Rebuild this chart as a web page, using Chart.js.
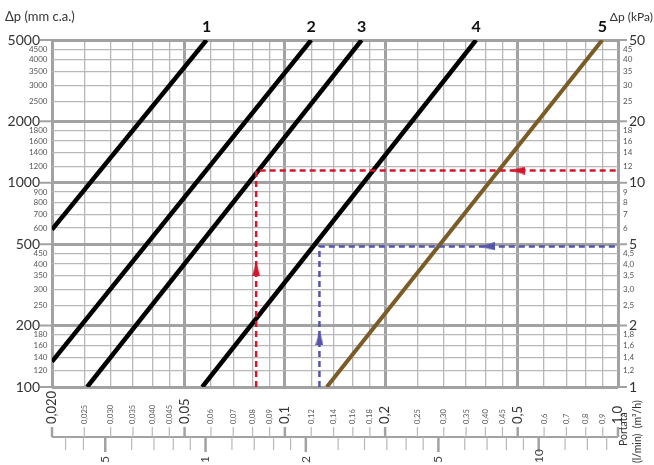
<!DOCTYPE html>
<html>
<head>
<meta charset="utf-8">
<script src="https://cdn.jsdelivr.net/npm/chart.js@4"></script>
<style>
  html, body { margin: 0; padding: 0; background: #fff; }
  #wrap { width: 654px; height: 465px; position: relative; }
</style>
</head>
<body>
<div id="wrap"><canvas id="myChart"></canvas></div>
<script>
// flow (m3/h) grid + labels
const flowTicks = [0.02,0.025,0.03,0.035,0.04,0.045,0.05,0.06,0.07,0.08,0.09,0.1,0.12,0.14,0.16,0.18,0.2,0.25,0.3,0.35,0.4,0.45,0.5,0.6,0.7,0.8,0.9,1.0];
const flowLabels = ['0,020','0,025','0,030','0,035','0,040','0,045','0,05','0,06','0,07','0,08','0,09','0,1','0,12','0,14','0,16','0,18','0,2','0,25','0,30','0,35','0,40','0,45','0,5','0,6','0,7','0,8','0,9','1,0'];
const flowMajor = [0.02,0.05,0.1,0.2,0.5,1.0];

// pressure drop (mm c.a.) grid + labels, and kPa labels on the right
const dpTicks = [100,120,140,160,180,200,250,300,350,400,450,500,600,700,800,900,1000,1200,1400,1600,1800,2000,2500,3000,3500,4000,4500,5000];
const dpMajor = [100,200,500,1000,2000,5000];
const kpaLabels = ['1','1,2','1,4','1,6','1,8','2','2,5','3,0','3,5','4,0','4,5','5','6','7','8','9','10','12','14','16','18','20','25','30','35','40','45','50'];

// l/min scale below (as drawn, 1 l/min sits at ~0.0578 m3/h)
const LMIN_TO_M3H = 0.0578;
const lminTicks = [0.38,0.43,0.5,0.6,0.7,0.8,0.9,1,1.2,1.4,1.6,1.8,2,2.5,3,3.5,4,4.5,5,6,7,8,9,10,12,14,16];
const lminMajor = [0.5,1,2,5,10];
const lminLabels = ['5','1','2','5','10'];

// valve curves: [Q m3/h, dp mm c.a.]
const curve1 = [{x:0.02, y:590}, {x:0.0582, y:5000}];
const curve2 = [{x:0.02, y:133}, {x:0.12, y:5000}];
const curve3 = [{x:0.0255, y:100}, {x:0.170, y:5000}];
const curve4 = [{x:0.0565, y:100}, {x:0.375, y:5000}];
const curve5 = [{x:0.1336, y:100}, {x:0.897, y:5000}];
const curveNames = ['1','2','3','4','5'];

// worked examples
const redPath = [{x:0.082, y:100}, {x:0.082, y:1148}, {x:1.0, y:1148}];
const bluePath = [{x:0.127, y:100}, {x:0.127, y:488}, {x:1.0, y:488}];
const redArrows = [{x:0.082, y:379}, {x:0.50, y:1148}];
const blueArrows = [{x:0.127, y:174}, {x:0.405, y:488}];

const FONT = 'Lato, "DejaVu Sans", sans-serif';
const GRID = '#b8b8b8';
const GRID_MAJOR = '#a2a2a2';
const RED = '#d3162c';
const BLUE = '#5555aa';
const BROWN = '#7b5b26';

function tri(color) {
  const c = document.createElement('canvas');
  c.width = 8; c.height = 15;
  const g = c.getContext('2d');
  g.fillStyle = color;
  g.beginPath();
  g.moveTo(4, 0); g.lineTo(8, 15); g.lineTo(0, 15);
  g.closePath(); g.fill();
  return c;
}

function seg(ctx, x1, y1, x2, y2, w, col) {
  ctx.strokeStyle = col; ctx.lineWidth = w;
  ctx.beginPath(); ctx.moveTo(x1, y1); ctx.lineTo(x2, y2); ctx.stroke();
}

function txt(ctx, s, x, y, align, font, col, rot) {
  ctx.save();
  ctx.translate(x, y);
  if (rot) ctx.rotate(rot);
  ctx.font = font; ctx.fillStyle = col || '#333';
  ctx.textAlign = align; ctx.textBaseline = 'middle';
  ctx.fillText(s, 0, 0);
  ctx.restore();
}

const decor = {
  id: 'decor',
  afterDraw(chart) {
    const { ctx, scales: { x, y }, chartArea: a } = chart;
    ctx.save();

    // left + right axis labels
    dpTicks.forEach((v, i) => {
      const py = y.getPixelForValue(v);
      if (dpMajor.includes(v)) {
        seg(ctx, a.left - 12, py, a.left, py, 2, GRID_MAJOR);
        seg(ctx, a.right, py, a.right + 9, py, 2, GRID_MAJOR);
        txt(ctx, String(v), a.left - 12, py, 'right', '14px ' + FONT, '#333');
        txt(ctx, kpaLabels[i], a.right + 11, py, 'left', '14px ' + FONT, '#333');
      } else {
        txt(ctx, String(v), a.left - 4.5, py, 'right', '8px ' + FONT, '#555');
        txt(ctx, kpaLabels[i], a.right + 5, py, 'left', '8px ' + FONT, '#555');
      }
    });

    // flow axis (m3/h)
    const yLine = 437;
    seg(ctx, a.left, yLine, a.right, yLine, 2, GRID_MAJOR);
    flowTicks.forEach((v, i) => {
      const px = x.getPixelForValue(v);
      const big = flowMajor.includes(v);
      seg(ctx, px, 427, px, yLine, big ? 2.5 : 1.2, big ? GRID_MAJOR : GRID);
      txt(ctx, flowLabels[i], px, 424, 'left', (big ? '13px ' : '7.5px ') + FONT, big ? '#333' : '#555', -Math.PI / 2);
    });

    // l/min axis
    lminTicks.forEach(v => {
      const px = x.getPixelForValue(v * LMIN_TO_M3H);
      const k = lminMajor.indexOf(v);
      seg(ctx, px, yLine, px, k >= 0 ? 452 : 450, k >= 0 ? 2.5 : 1.2, k >= 0 ? GRID_MAJOR : GRID);
      if (k >= 0) txt(ctx, lminLabels[k], px, 463, 'left', '12px ' + FONT, '#444', -Math.PI / 2);
    });

    // axis titles
    txt(ctx, 'Δp (mm c.a.)', 5, 17, 'left', '13px ' + FONT, '#333');
    txt(ctx, 'Δp (kPa)', 653, 17, 'right', '12px ' + FONT, '#333');
    txt(ctx, 'Portata', 624, 446, 'left', '10.5px ' + FONT, '#333', -Math.PI / 2);
    txt(ctx, '(l/min)  (m³/h)', 638, 463, 'left', '10.5px ' + FONT, '#333', -Math.PI / 2);

    // curve numbers at the top end of each line
    [curve1, curve2, curve3, curve4, curve5].forEach((c, i) => {
      const end = c[c.length - 1];
      txt(ctx, curveNames[i], x.getPixelForValue(end.x), y.getPixelForValue(end.y) - 13,
        'center', 'bold 16px ' + FONT, '#111');
    });
    ctx.restore();
  }
};

const lineDs = (data, color, w) => ({
  data, borderColor: color, borderWidth: w, showLine: true,
  pointRadius: 0, fill: false, tension: 0
});

new Chart(document.getElementById('myChart'), {
  type: 'scatter',
  data: {
    datasets: [
      Object.assign(lineDs(redPath, RED, 2.5), { borderDash: [6, 4], order: 2 }),
      Object.assign(lineDs(bluePath, BLUE, 2.5), { borderDash: [6, 4], order: 2 }),
      { data: redArrows, pointStyle: tri(RED), pointRotation: [0, -90], pointRadius: 7, order: 1 },
      { data: blueArrows, pointStyle: tri(BLUE), pointRotation: [0, -90], pointRadius: 7, order: 1 },
      Object.assign(lineDs(curve1, '#000', 4.5), { order: 3 }),
      Object.assign(lineDs(curve2, '#000', 4.5), { order: 3 }),
      Object.assign(lineDs(curve3, '#000', 4.5), { order: 3 }),
      Object.assign(lineDs(curve4, '#000', 4.5), { order: 3 }),
      Object.assign(lineDs(curve5, BROWN, 4), { order: 3 })
    ]
  },
  options: {
    animation: false,
    responsive: true,
    maintainAspectRatio: false,
    layout: { padding: { left: 52, top: 40, right: 36, bottom: 78 } },
    plugins: { legend: { display: false }, tooltip: { enabled: false } },
    scales: {
      x: {
        type: 'logarithmic', min: 0.02, max: 1.0,
        afterBuildTicks: s => { s.ticks = flowTicks.map(v => ({ value: v })); },
        ticks: { display: false },
        border: { display: false },
        grid: {
          drawTicks: false,
          color: c => flowMajor.includes(c.tick.value) ? GRID_MAJOR : GRID,
          lineWidth: c => flowMajor.includes(c.tick.value) ? 3 : 1.3
        }
      },
      y: {
        type: 'logarithmic', min: 100, max: 5000,
        afterBuildTicks: s => { s.ticks = dpTicks.map(v => ({ value: v })); },
        ticks: { display: false },
        border: { display: false },
        grid: {
          drawTicks: false,
          color: c => dpMajor.includes(c.tick.value) ? GRID_MAJOR : GRID,
          lineWidth: c => dpMajor.includes(c.tick.value) ? 3 : 1.3
        }
      }
    }
  },
  plugins: [decor]
});
</script>
</body>
</html>
